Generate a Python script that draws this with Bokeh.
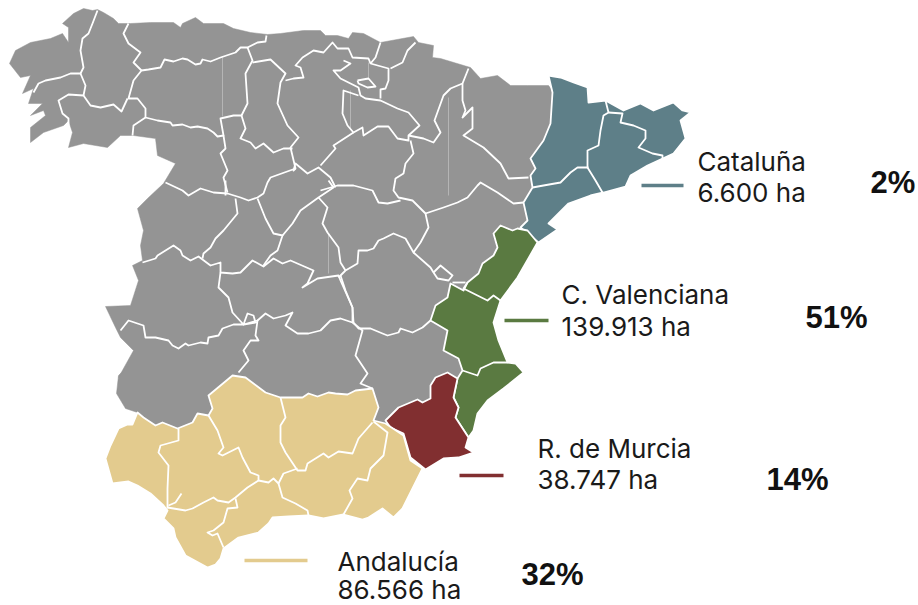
from bokeh.plotting import figure
from bokeh.embed import file_html
from bokeh.resources import INLINE
from bokeh.core.properties import value

# Outlines (x, y in picture units)
gray_outline = [(9,63),(15,50),(30,42),(50,38),(62,33),(68,42),(68,27),(62,23),(73,13),(83,8),(92,10),(97,9),(103,12),(113,18),(118,23),(130,23),(150,22),(173,22),(180,27),(182,23),(195,17),(203,23),(223,23),(233,28),(250,32),(267,34),(280,33),(303,30),(320,30),(325,35),(337,35),(348,38),(352,32),(363,33),(380,42),(413,36),(418,42),(433,45),(432,57),(440,58),(470,67),(480,78),(497,75),(510,85),(527,85),(548,85),(560,100),(545,190),(535,225),(510,245),(475,290),(455,320),(470,365),(465,395),(440,430),(400,440),(300,450),(200,440),(150,440),(137,412),(125,408),(116,393),(118,375),(128,365),(118,377),(133,350),(120,337),(115,327),(105,306),(130,305),(138,280),(132,265),(142,260),(140,245),(143,230),(137,208),(147,198),(163,183),(175,163),(157,155),(155,138),(133,135),(120,135),(107,147),(83,143),(68,147),(72,132),(68,120),(63,125),(43,132),(30,142),(30,127),(45,115),(43,110),(30,115),(42,103),(28,103),(33,88),(22,93),(30,75),(20,77)]
cataluna_outline = [(548,75),(560,77),(573,82),(587,87),(588,102),(605,100),(623,110),(640,103),(653,110),(673,102),(682,110),(690,112),(680,120),(685,138),(673,153),(647,165),(630,175),(625,186),(603,192),(590,195),(568,203),(548,223),(557,229),(538,242),(520,227),(527,220),(523,202),(532,187),(530,175),(535,168),(530,158),(543,140),(550,123),(552,92)]
valencia_outline = [(500,225),(493,233),(497,247),(493,255),(482,263),(478,273),(467,282),(463,290),(450,283),(447,297),(435,305),(430,320),(447,330),(443,350),(458,358),(462,370),(457,378),(453,397),(458,407),(455,417),(468,437),(473,430),(477,413),(487,400),(503,388),(523,372),(515,363),(507,362),(498,340),(493,322),(500,300),(517,277),(537,242),(527,230),(517,228),(512,230)]
murcia_outline = [(385,420),(398,407),(417,399),(422,402),(430,398),(430,385),(435,377),(447,372),(457,378),(453,397),(458,407),(455,417),(468,437),(465,447),(473,452),(458,457),(443,458),(425,469),(410,457),(403,433),(390,427)]
andalucia_outline = [(105,458),(110,445),(118,428),(127,424),(132,424),(137,412),(143,417),(155,425),(162,422),(177,428),(192,422),(197,413),(208,415),(212,408),(208,395),(232,375),(245,377),(265,392),(280,397),(302,397),(308,393),(317,396),(328,392),(335,393),(347,394),(355,390),(372,388),(378,407),(373,420),(385,423),(403,435),(410,460),(422,468),(410,492),(402,508),(393,517),(382,508),(368,517),(362,519),(343,514),(323,518),(308,515),(288,516),(272,517),(268,523),(258,532),(238,537),(223,548),(220,558),(215,564),(207,567),(185,555),(175,537),(173,528),(163,518),(167,510),(163,505),(150,493),(137,485),(128,481),(120,482),(112,483)]

# Province borders
borders = [
 [(97,10),(92,23),(88,33),(82,38),(80,50),(83,67),(80,73),(70,73),(60,77),(45,80),(38,83),(33,92)],
 [(80,73),(85,85),(83,95)],
 [(68,125),(68,118),(62,113),(58,100),(68,94),(83,95),(90,105),(100,107),(113,104),(121,111),(127,98)],
 [(128,23),(123,33),(128,43),(140,52),(133,62),(141,70),(133,80),(128,98),(137,98),(145,108),(145,117),(157,120),(170,122),(172,125),(182,124),(190,127),(197,126),(207,128),(213,132),(217,136),(223,135),(220,118),(233,115),(241,115),(247,103),(245,73),(252,60),(247,47)],
 [(141,70),(148,69),(160,67),(164,59),(173,61),(182,58),(187,59),(195,64),(200,63),(202,59),(210,61),(220,57),(235,52),(240,47),(247,47),(257,42),(265,41),(266,35)],
 [(145,117),(133,125),(132,135)],
 [(223,135),(225,148),(220,153),(227,170),(223,177),(227,192)],
 [(165,182),(182,190),(188,195),(200,188),(213,192),(227,193),(240,197),(248,200),(257,197),(263,193),(267,182),(270,177),(295,168)],
 [(241,115),(245,128),(240,138),(250,142),(255,148),(263,143),(273,152),(283,148),(292,148)],
 [(252,62),(270,59),(285,73),(280,82),(277,103),(287,125),(298,137),(290,147),(295,168),(293,170),(295,163),(307,173),(318,167),(330,177),(335,187)],
 [(285,80),(293,78),(303,77),(300,67),(295,65),(302,57),(313,50),(323,52),(332,42),(337,48),(348,48),(352,57),(368,58),(370,63),(388,68),(388,80),(385,88),(380,89),(380,98)],
 [(380,42),(375,57),(370,63)],
 [(415,42),(407,50),(402,62),(390,68)],
 [(343,60),(350,63),(340,70),(333,70),(340,78),(358,87),(360,95),(365,98),(380,100),(397,108),(408,112),(419,125),(408,135),(408,140),(397,138),(388,126),(377,126),(363,135),(362,127),(353,132),(347,125),(342,113),(343,90),(358,95)],
 [(357,80),(368,78),(375,86),(367,87),(358,83),(357,80)],
 [(353,132),(333,145),(335,148),(320,165)],
 [(408,135),(423,138),(433,142),(440,132),(434,120),(443,95),(450,88),(462,83),(468,68)],
 [(462,83),(462,100),(465,110),(462,117),(472,107),(472,128),(463,135),(483,147),(500,163),(508,178),(528,177)],
 [(410,140),(413,153),(405,163),(403,173),(395,178),(393,190),(398,197),(412,200),(425,213),(428,227),(420,242),(413,252),(405,238),(393,233),(383,238),(378,240),(373,248),(367,250),(358,250),(357,263),(345,270),(338,277)],
 [(425,213),(443,207),(457,202),(467,197),(477,185),(480,182),(497,192),(513,203),(523,202)],
 [(320,190),(337,185),(353,185),(372,190),(378,202),(387,203),(400,200)],
 [(225,180),(225,195)],
 [(235,198),(237,213),(223,230),(215,238),(210,247),(203,253),(202,258)],
 [(142,262),(155,258),(157,255),(173,245),(180,250),(182,255),(190,260),(198,256),(202,259),(210,265),(220,262),(220,272),(232,273),(240,272),(252,260),(263,266),(273,258),(282,263),(290,260),(313,270),(307,283),(302,287),(317,278),(338,275),(340,280),(352,307),(352,322)],
 [(257,198),(265,218),(273,233),(282,235),(277,250),(270,255),(263,265)],
 [(282,235),(292,223),(300,210),(318,197),(333,187),(328,180)],
 [(318,197),(327,207),(322,223),(327,232),(338,247),(340,262),(345,270)],
 [(413,252),(430,267),(433,272),(440,265),(452,275),(448,280),(437,278),(433,272)],
 [(452,282),(465,282)],
 [(340,275),(345,290),(352,307),(353,322),(358,328),(370,328),(382,333),(387,335),(398,332),(400,328),(412,332),(422,327),(430,320)],
 [(257,320),(265,313),(273,318),(285,315),(292,312),(285,325),(297,333),(308,333),(320,330),(330,320),(340,318),(352,322),(362,330),(355,355),(367,373),(360,383),(372,388)],
 [(220,272),(218,287),(228,297),(232,312),(243,324),(233,324),(222,328),(218,335),(208,337),(207,343),(200,342),(188,345),(185,343),(178,348),(172,345),(168,340),(155,337),(145,337),(143,325),(128,320),(120,330)],
 [(243,324),(247,313),(253,315),(255,322),(243,324),(257,320),(255,335),(258,340),(250,340),(243,350),(248,360),(238,372)],
 # Catalonia
 [(532,187),(543,185),(560,182),(570,172),(577,167),(588,167)],
 [(605,100),(608,112),(603,115),(600,130),(598,145),(587,150),(587,167),(595,180),(602,192)],
 [(608,112),(622,113),(620,122),(633,125),(645,130),(645,138),(638,147),(652,153),(662,155),(662,159)],
 # Valencia
 [(467,282),(463,288),(477,295),(487,300),(493,295),(500,300)],
 [(462,370),(477,375),(480,368),(493,362),(507,362)],
 # Andalucia
 [(178,428),(178,440),(160,445),(158,452),(168,465),(167,488),(167,508)],
 [(167,507),(185,510),(192,508),(203,502),(213,497),(217,500),(228,502),(235,497),(247,487),(258,480)],
 [(168,505),(175,502),(181,493)],
 [(208,415),(217,430),(223,447),(218,453),(222,455),(238,447),(242,457),(250,472),(258,475),(258,480),(268,482),(273,478),(278,483),(283,473),(297,468)],
 [(280,397),(285,417),(280,425),(280,442),(285,452),(297,470),(305,470),(307,463),(323,453),(328,457),(338,451),(352,453),(358,438),(372,422)],
 [(373,421),(387,432),(383,455),(370,468),(367,480),(357,478),(349,490),(352,498),(343,514)],
 [(278,483),(282,497),(295,503),(307,510),(308,515)],
 [(235,498),(237,507),(227,508),(223,522),(213,530),(207,532),(212,535),(217,533),(223,547)],
]
faint_lines = [[(222,57),(222,116)],[(448,97),(448,195)],[(328,233),(328,273)],[(368,62),(368,78)],[(350,90),(350,128)]]

label_names = ["Cataluña","C. Valenciana","R. de Murcia","Andalucía"]
label_areas = ["6.600 ha","139.913 ha","38.747 ha","86.566 ha"]
label_pct = ["2%","51%","14%","32%"]
label_x = [697,561,537,337]
name_y = [161,294,448,561]
area_y = [192,326,479,589]
pct_x = [870,805,766,521]
pct_y = [182,317,479,574]
leader_x0 = [641,504,459,244]
leader_x1 = [683,548,503,307]
leader_y = [185,320,475,560]
region_colors = ["#5e7f88","#5a7a41","#812f30","#e3cb8e"]
GRAY = "#949494"

p = figure(width=918, height=605, x_range=(0,918), y_range=(605,0), toolbar_location=None,
           output_backend="svg", min_border=0, outline_line_color=None, background_fill_color="white")
p.axis.visible = False
p.grid.visible = False

def xs(poly): return [pt[0] for pt in poly]
def ys(poly): return [pt[1] for pt in poly]

p.patch(xs(gray_outline), ys(gray_outline), fill_color=GRAY, line_color=GRAY, line_width=0.5)
p.multi_line([xs(l) for l in faint_lines],[ys(l) for l in faint_lines], line_color="#b5b5b5", line_width=1)
regions = [cataluna_outline, valencia_outline, murcia_outline, andalucia_outline]
p.patches([xs(r) for r in regions],[ys(r) for r in regions], fill_color=region_colors,
          line_color="white", line_width=1.8, line_join="round")
p.multi_line([xs(l) for l in borders],[ys(l) for l in borders], line_color="white", line_width=1.8, line_join="round")
p.segment(leader_x0, leader_y, leader_x1, leader_y, line_color=region_colors, line_width=3.5)
LF = value("Inter")
p.text(label_x, name_y, text=label_names, text_font=LF, text_font_size="26px", text_color="#1a1a1a", text_baseline="middle")
p.text(label_x, area_y, text=label_areas, text_font=LF, text_font_size="26px", text_color="#1a1a1a", text_baseline="middle")
p.text(pct_x, pct_y, text=label_pct, text_font=value("Liberation Sans"), text_font_style="bold", text_font_size="31px", text_color="#111111", text_baseline="middle")

open("out.html","w").write(file_html(p, INLINE))
